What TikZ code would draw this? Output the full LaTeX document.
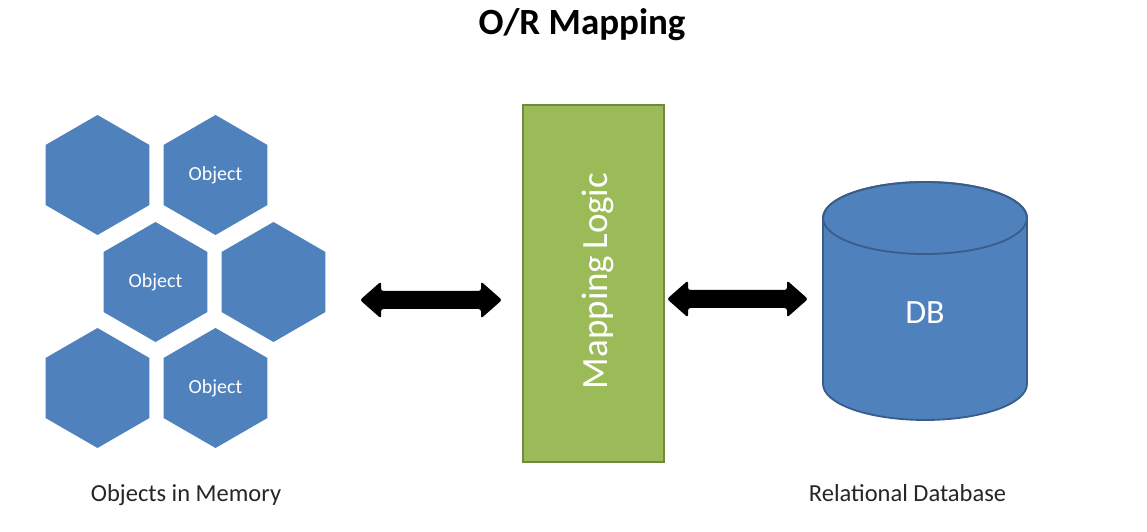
\documentclass[tikz,border=0pt]{standalone}
\usepackage{fontspec}
\setmainfont{Carlito}
\usetikzlibrary{shapes.geometric}
\definecolor{hexblue}{HTML}{4F81BD}
\definecolor{dbborder}{HTML}{385D8A}
\definecolor{mapgreen}{HTML}{9BBB59}
\definecolor{mapborder}{HTML}{71893F}
\definecolor{labelgray}{HTML}{262626}
\begin{document}
\begin{tikzpicture}[x=1pt,y=1pt,
  hexa/.style={regular polygon, regular polygon sides=6, regular polygon rotate=30,
    minimum size=120pt, inner sep=0pt, outer sep=0pt, fill=hexblue, text=white,
    font=\fontsize{20}{24}\selectfont},
  fatarrow/.style={fill=black, rounded corners=2.5pt},
  caption/.style={anchor=base, text=labelgray, font=\fontsize{24.5}{28}\selectfont},
  ]
\useasboundingbox (0,0) rectangle (1147,532);
\fill[white] (0,0) rectangle (1147,532);

% title
\node[anchor=base, font=\bfseries\fontsize{37}{40}\selectfont] (title) at (582,497) {O/R Mapping};

% hexagons
\node[hexa] (h1) at (97.5,357) {};
\node[hexa] (h2) at (215.5,357) {Object};
\node[hexa] (h3) at (155.5,250) {Object};
\node[hexa] (h4) at (273.5,250) {};
\node[hexa] (h5) at (97.5,144) {};
\node[hexa] (h6) at (215.5,144) {Object};

% mapping logic box
\node[draw=mapborder, fill=mapgreen, line width=2.5pt,
  minimum width=141pt, minimum height=357pt, inner sep=0pt] (map) at (593.5,248.5) {};
\node[rotate=90, text=white, font=\fontsize{37}{40}\selectfont, inner sep=0pt]
  (maptext) at (598,251) {Mapping\,Logic};

% database cylinder
\filldraw[fill=hexblue, draw=dbborder, line width=1.8pt]
  (823,314) -- (823,148) arc[start angle=180, end angle=360, x radius=102, y radius=36]
  -- (1027,314) arc[start angle=0, end angle=180, x radius=102, y radius=36] -- cycle;
\draw[dbborder, line width=1.8pt] (925,314) ellipse [x radius=102, y radius=36];
\node[text=white, font=\fontsize{34}{38}\selectfont] (db) at (925,219) {DB};

% double arrows
\coordinate (a1l) at (360,232);
\coordinate (a2l) at (667,233);
\fill[fatarrow] (a1l) -- ++(21,18.5) -- ++(0,-9.5) -- ++(100,0) -- ++(0,9.5) -- ++(21,-18.5)
  -- ++(-21,-18.5) -- ++(0,9.5) -- ++(-100,0) -- ++(0,-9.5) -- cycle;
\fill[fatarrow] (a2l) -- ++(21,18.5) -- ++(0,-9.5) -- ++(99,0) -- ++(0,9.5) -- ++(21,-18.5)
  -- ++(-21,-18.5) -- ++(0,9.5) -- ++(-99,0) -- ++(0,-9.5) -- cycle;

% captions
\node[caption] (memlabel) at (186,30.5) {Objects in Memory};
\node[caption] (dblabel) at (907.5,30.5) {Relational Database};
\end{tikzpicture}
\end{document}
